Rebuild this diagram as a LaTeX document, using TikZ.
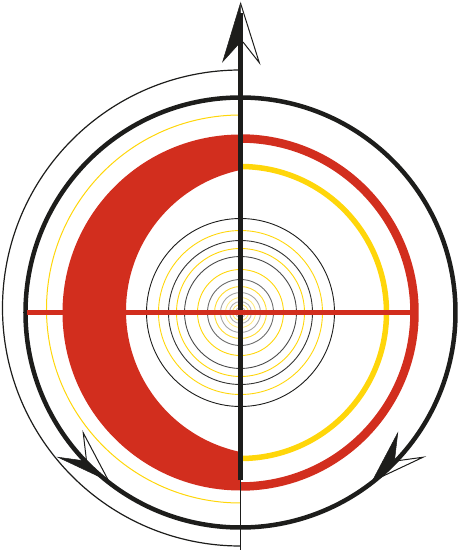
\documentclass[tikz,border=0pt]{standalone}
\usepackage{tikz}
\usetikzlibrary{calc}
\definecolor{tgtRed}{RGB}{210,46,30}
\definecolor{tgtYellow}{RGB}{255,214,10}
\definecolor{tgtBlack}{RGB}{29,29,27}
\tikzset{
    % Rings
    tgtRing/.style={draw=tgtBlack, line width=#1},
    tgtRing/.default=1pt,
    goldRing/.style={draw=tgtYellow, line width=#1},
    goldRing/.default=1pt,
    redRing/.style={draw=tgtRed, line width=#1},
    redRing/.default=5pt,
    % Arrow halves
    headFilled/.style={fill=tgtBlack, draw=tgtBlack, line width=0.5pt, line join=miter},
    headOpen/.style={draw=tgtBlack, line width=1pt, line join=miter}
}

\begin{document}
\begin{tikzpicture}[x=1pt, y=1pt]
\useasboundingbox (-240.5,-237.5) rectangle (218.5,312.5);
\coordinate (c) at (0,0);

% thin left half rings
\draw[tgtRing=1.2pt] (0,242.5) arc[start angle=90, end angle=270, radius=238];
\draw[goldRing=1pt] (0,197.5) arc[start angle=90, end angle=270, radius=194];

% red crescent on the left
\begin{scope}
\clip (-240,-240) rectangle (0,240);
\fill[tgtRed, even odd rule] (c) circle[radius=178] (29.5,1.5) circle[radius=144];
\end{scope}

% right half rings
\draw[redRing=8.5pt] (0,174) arc[start angle=90, end angle=-90, radius=174];
\draw[goldRing=5.5pt] (0,146) arc[start angle=90, end angle=-90, radius=146];

% main circle
\draw[tgtRing=4.5pt] (c) circle[radius=215];

% centre rings
\foreach \r/\col in {94/tgtBlack, 82/tgtYellow, 72/tgtBlack!90, 64/tgtYellow,
    56/tgtBlack!80, 43/tgtYellow, 33/tgtBlack!65, 26/tgtYellow!85,
    20/tgtBlack!40, 15/tgtYellow!50, 11/tgtBlack!35, 8/tgtYellow!55, 5/tgtBlack!35}
  \draw[\col, line width=0.9pt] (c) circle[radius=\r];

% axes
\coordinate (shaftLow) at (0,-167.5);
\coordinate (shaftTop) at (0,300);
\coordinate (baseEnd) at (0,-237.5);
\draw[tgtBlack, line width=5pt] (shaftLow) -- (shaftTop);
\draw[tgtRing=1.2pt] (shaftLow) -- (baseEnd);
\draw[redRing=5pt] (-213,0) -- (170,0);

% top arrow head
\coordinate (topTip) at (0,309.5);
\fill[headFilled] (topTip) -- (-17.8,250.8) -- (0,270.5) -- cycle;
\draw[headOpen] (topTip) -- (18.8,249.8) -- (2.5,270.5);

% arrow heads on the circle
\coordinate (leftTip) at (232:214);
\coordinate (rightTip) at (308:214);
\fill[headFilled] (leftTip) -- (218.4:233) -- (224:214) -- cycle;
\draw[headOpen] (leftTip) -- (217.4:198) -- (224:214);
\fill[headFilled] (rightTip) -- (322.6:198) -- (316:214) -- cycle;
\draw[headOpen] (rightTip) -- (321.6:233) -- (316:214);
\end{tikzpicture}
\end{document}
